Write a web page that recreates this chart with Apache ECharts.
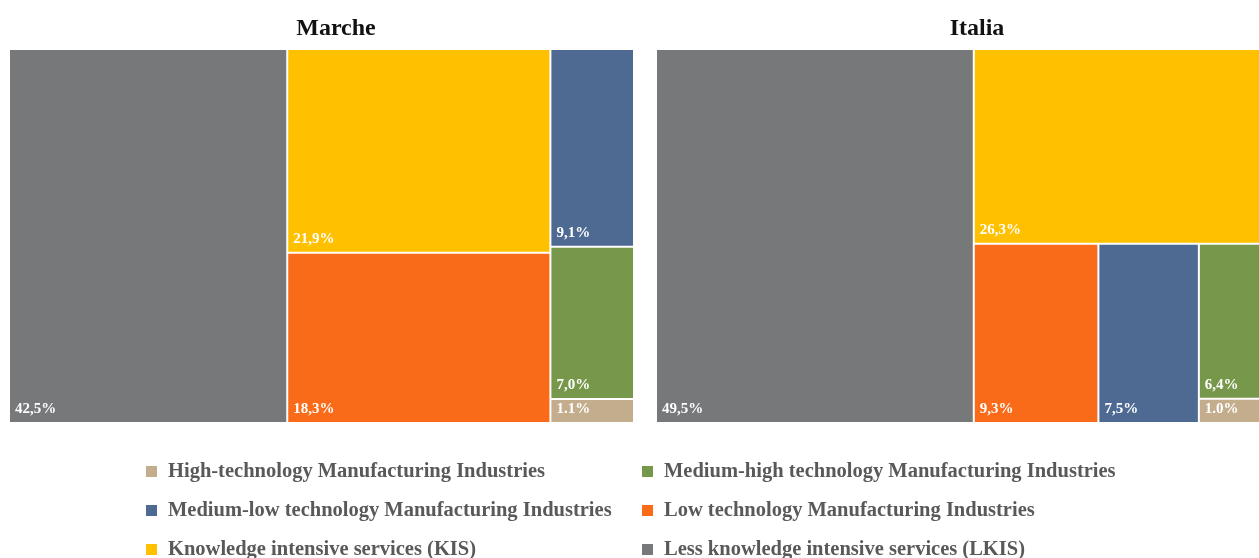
<!DOCTYPE html>
<html><head><meta charset="utf-8">
<script src="https://cdn.jsdelivr.net/npm/echarts@6/dist/echarts.min.js"></script>
<style>
html,body{margin:0;padding:0;background:#fff;}
#stage{position:relative;width:1259px;height:558px;overflow:hidden;background:#fff;}
#legend{position:absolute;left:0;top:0;width:1259px;height:660px;}
#wrapM{position:absolute;left:0;top:0;width:633px;height:440px;overflow:hidden;}
#marche{width:672px;height:440px;}
#wrapI{position:absolute;left:647px;top:0;width:612px;height:440px;overflow:hidden;}
#italia{width:660px;height:440px;}
</style></head>
<body>
<div id="stage">
  <div id="legend"></div>
  <div id="wrapM"><div id="marche"></div></div>
  <div id="wrapI"><div id="italia"></div></div>
</div>
<script>
const categories = [
  'High-technology Manufacturing Industries',
  'Medium-high technology Manufacturing Industries',
  'Medium-low technology Manufacturing Industries',
  'Low technology Manufacturing Industries',
  'Knowledge intensive services (KIS)',
  'Less knowledge intensive services (LKIS)'
];
const colors = ['#C4AD8D', '#77984A', '#4E6A92', '#F96B19', '#FFC000', '#76787A'];
const marcheValues = [1.1, 7.0, 9.1, 18.3, 21.9, 42.5];
const marcheLabels = ['1.1%', '7,0%', '9,1%', '18,3%', '21,9%', '42,5%'];
const italiaValues = [1.0, 6.4, 7.5, 9.3, 26.3, 49.5];
const italiaLabels = ['1.0%', '6,4%', '7,5%', '9,3%', '26,3%', '49,5%'];

const FONT = "'Liberation Serif', 'DejaVu Serif', serif";

function treemapOption(title, values, labels, boxWidth) {
  return {
    animation: false,
    title: {
      text: title, left: 'center', top: 12,
      textStyle: {fontFamily: FONT, fontWeight: 'bold', fontSize: 24, color: '#111'}
    },
    series: [{
      type: 'treemap',
      left: 10, top: 50, width: boxWidth, height: 372,
      roam: false, nodeClick: false, silent: true,
      breadcrumb: {show: false},
      squareRatio: 1,
      sort: 'desc',
      itemStyle: {borderWidth: 0, gapWidth: 2, borderColor: '#fff'},
      levels: [{itemStyle: {borderWidth: 0, gapWidth: 2, borderColor: '#fff'}}],
      label: {
        show: true, position: 'insideBottomLeft', distance: 5, padding: 0,
        formatter: p => p.data.lbl,
        color: '#fff', fontFamily: FONT, fontWeight: 'bold', fontSize: 15, lineHeight: 15
      },
      data: categories.map((c, i) => ({
        name: c, value: values[i], lbl: labels[i],
        itemStyle: {color: colors[i]}
      }))
    }]
  };
}

const mChart = echarts.init(document.getElementById('marche'));
mChart.setOption(treemapOption('Marche', marcheValues, marcheLabels, 652));
const iChart = echarts.init(document.getElementById('italia'));
iChart.setOption(treemapOption('Italia', italiaValues, italiaLabels, 640));

const legendStyle = {
  orient: 'vertical', top: 456, itemGap: 18,
  icon: 'rect', itemWidth: 11, itemHeight: 11,
  selectedMode: false,
  textStyle: {fontFamily: FONT, fontWeight: 'bold', fontSize: 20.5, color: '#595959', padding: [0, 0, 0, 6]}
};
const lChart = echarts.init(document.getElementById('legend'));
lChart.setOption({
  animation: false,
  grid: {show: false, left: 0, top: 0, width: 1, height: 1},
  xAxis: {show: false, type: 'value'},
  yAxis: {show: false, type: 'value'},
  legend: [
    Object.assign({}, legendStyle, {left: 141, data: [categories[0], categories[2], categories[4]]}),
    Object.assign({}, legendStyle, {left: 637, data: [categories[1], categories[3], categories[5]]})
  ],
  series: categories.map((c, i) => ({
    type: 'scatter', name: c, data: [], itemStyle: {color: colors[i], opacity: 1}
  }))
});
</script>
</body></html>
